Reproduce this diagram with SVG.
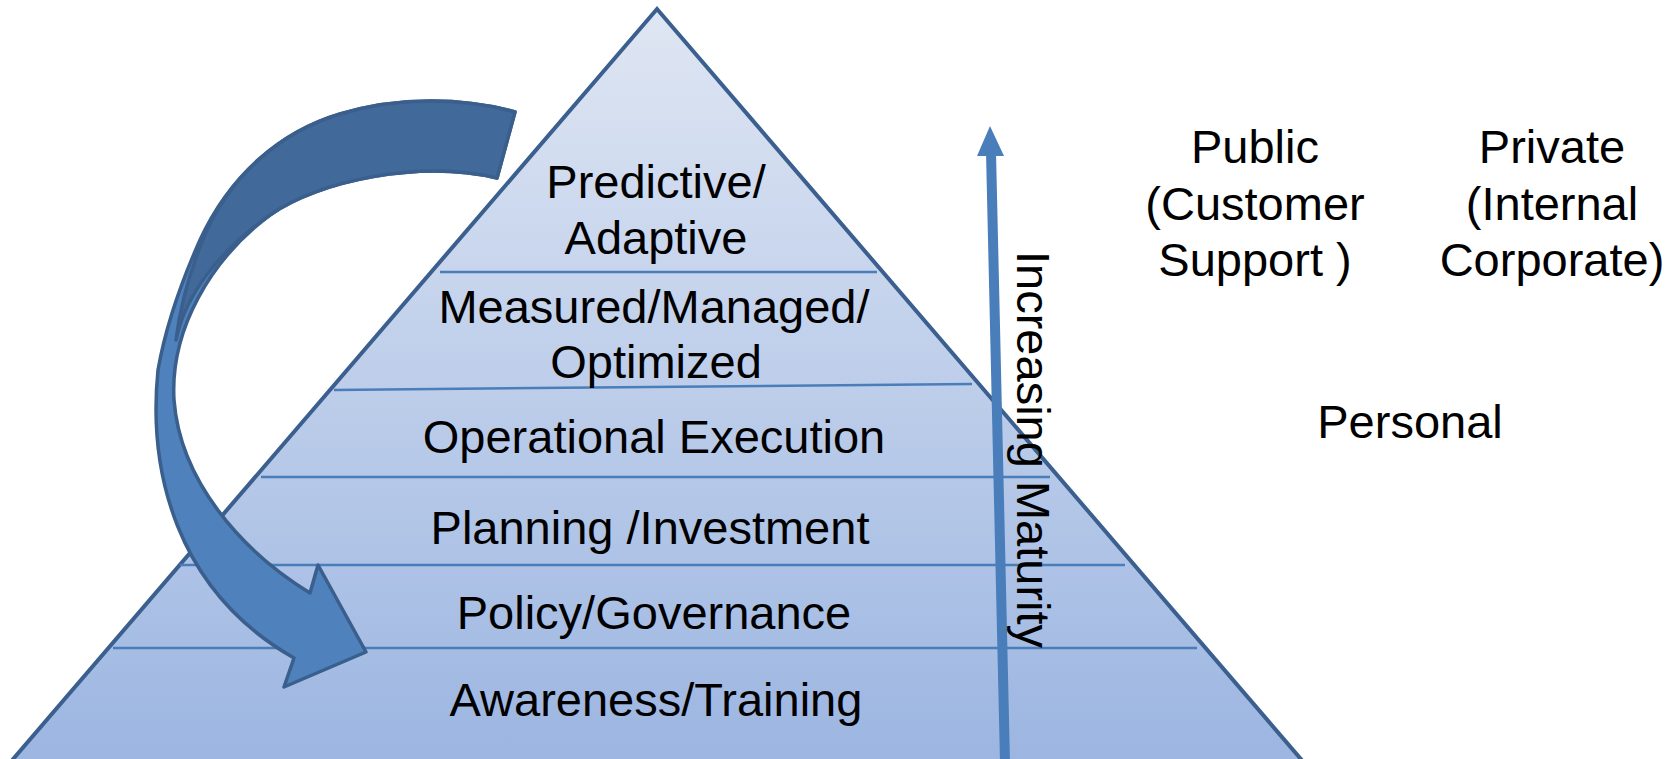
<svg xmlns="http://www.w3.org/2000/svg" width="1672" height="759" viewBox="0 0 1672 759">
  <defs>
    <linearGradient id="pyrFill" x1="0" y1="0" x2="0" y2="1">
      <stop offset="0" stop-color="#dfe6f3"/>
      <stop offset="1" stop-color="#9bb5e1"/>
    </linearGradient>
    <style>
      .t { font-family: "Liberation Sans", Arial, sans-serif; font-size: 47px; fill: #000; text-anchor: middle; }
      .tier { stroke: #4a7ebb; stroke-width: 2.5; fill: none; }
    </style>
  </defs>
  <rect width="1672" height="759" fill="#ffffff"/>

  <g id="pyramid">
    <polygon points="657,9 1312,772 2,772" fill="url(#pyrFill)" stroke="#3b5f8e" stroke-width="4" stroke-linejoin="miter"/>
  </g>

  <g id="tier-lines">
    <line class="tier" x1="440" y1="272" x2="877" y2="272"/>
    <line class="tier" x1="334" y1="390" x2="972" y2="384"/>
    <line class="tier" x1="261" y1="477" x2="1050" y2="477"/>
    <line class="tier" x1="180" y1="565" x2="1125" y2="565"/>
    <line class="tier" x1="113" y1="648" x2="1197" y2="648"/>
  </g>

  <g id="tier-predictive">
    <text class="t" x="656" y="198">Predictive/</text>
    <text class="t" x="656" y="254">Adaptive</text>
  </g>
  <g id="tier-measured">
    <text class="t" x="654" y="323">Measured/Managed/</text>
    <text class="t" x="656" y="378">Optimized</text>
  </g>
  <g id="tier-operational">
    <text class="t" x="654" y="453">Operational Execution</text>
  </g>
  <g id="tier-planning">
    <text class="t" x="650" y="544">Planning /Investment</text>
  </g>
  <g id="tier-policy">
    <text class="t" x="654" y="629">Policy/Governance</text>
  </g>
  <g id="tier-awareness">
    <text class="t" x="656" y="716">Awareness/Training</text>
  </g>

  <g id="connectors">
    <g id="cycle-arrow">
      <path d="M515,112 C465,98 400,96 340,114 C280,132 230,175 200,240 C180,285 165,330 158,370 C148,470 175,590 294,658 L284,687 L366,652 L318,565 L310,593 C240,550 180,480 174,400 C170,330 210,260 270,215 C320,180 420,160 497,178 Z" fill="#4f81bd" stroke="#3a5f8c" stroke-width="3.5" stroke-linejoin="round"/>
      <path d="M515,112 C465,98 400,96 340,114 C280,132 232,175 206,232 C192,265 181,300 176,340 C185,295 220,250 270,215 C320,180 420,160 497,178 Z" fill="#41699a" stroke="#3a5f8c" stroke-width="3.5" stroke-linejoin="round"/>
    </g>
    <g id="maturity-arrow">
      <line x1="1005" y1="762" x2="991" y2="152" stroke="#4a7ebb" stroke-width="10"/>
      <polygon points="990,126 1004,156 977,156" fill="#4a7ebb"/>
    </g>
  </g>

  <g id="maturity-label">
    <text class="t" style="text-anchor:start" transform="translate(1017,251) rotate(90)">Increasing Maturity</text>
  </g>

  <g id="public">
    <text class="t" x="1255" y="163">Public</text>
    <text class="t" x="1255" y="220">(Customer</text>
    <text class="t" x="1255" y="276">Support )</text>
  </g>
  <g id="private">
    <text class="t" x="1552" y="163">Private</text>
    <text class="t" x="1552" y="220">(Internal</text>
    <text class="t" x="1552" y="276">Corporate)</text>
  </g>
  <g id="personal">
    <text class="t" x="1410" y="438">Personal</text>
  </g>
</svg>
